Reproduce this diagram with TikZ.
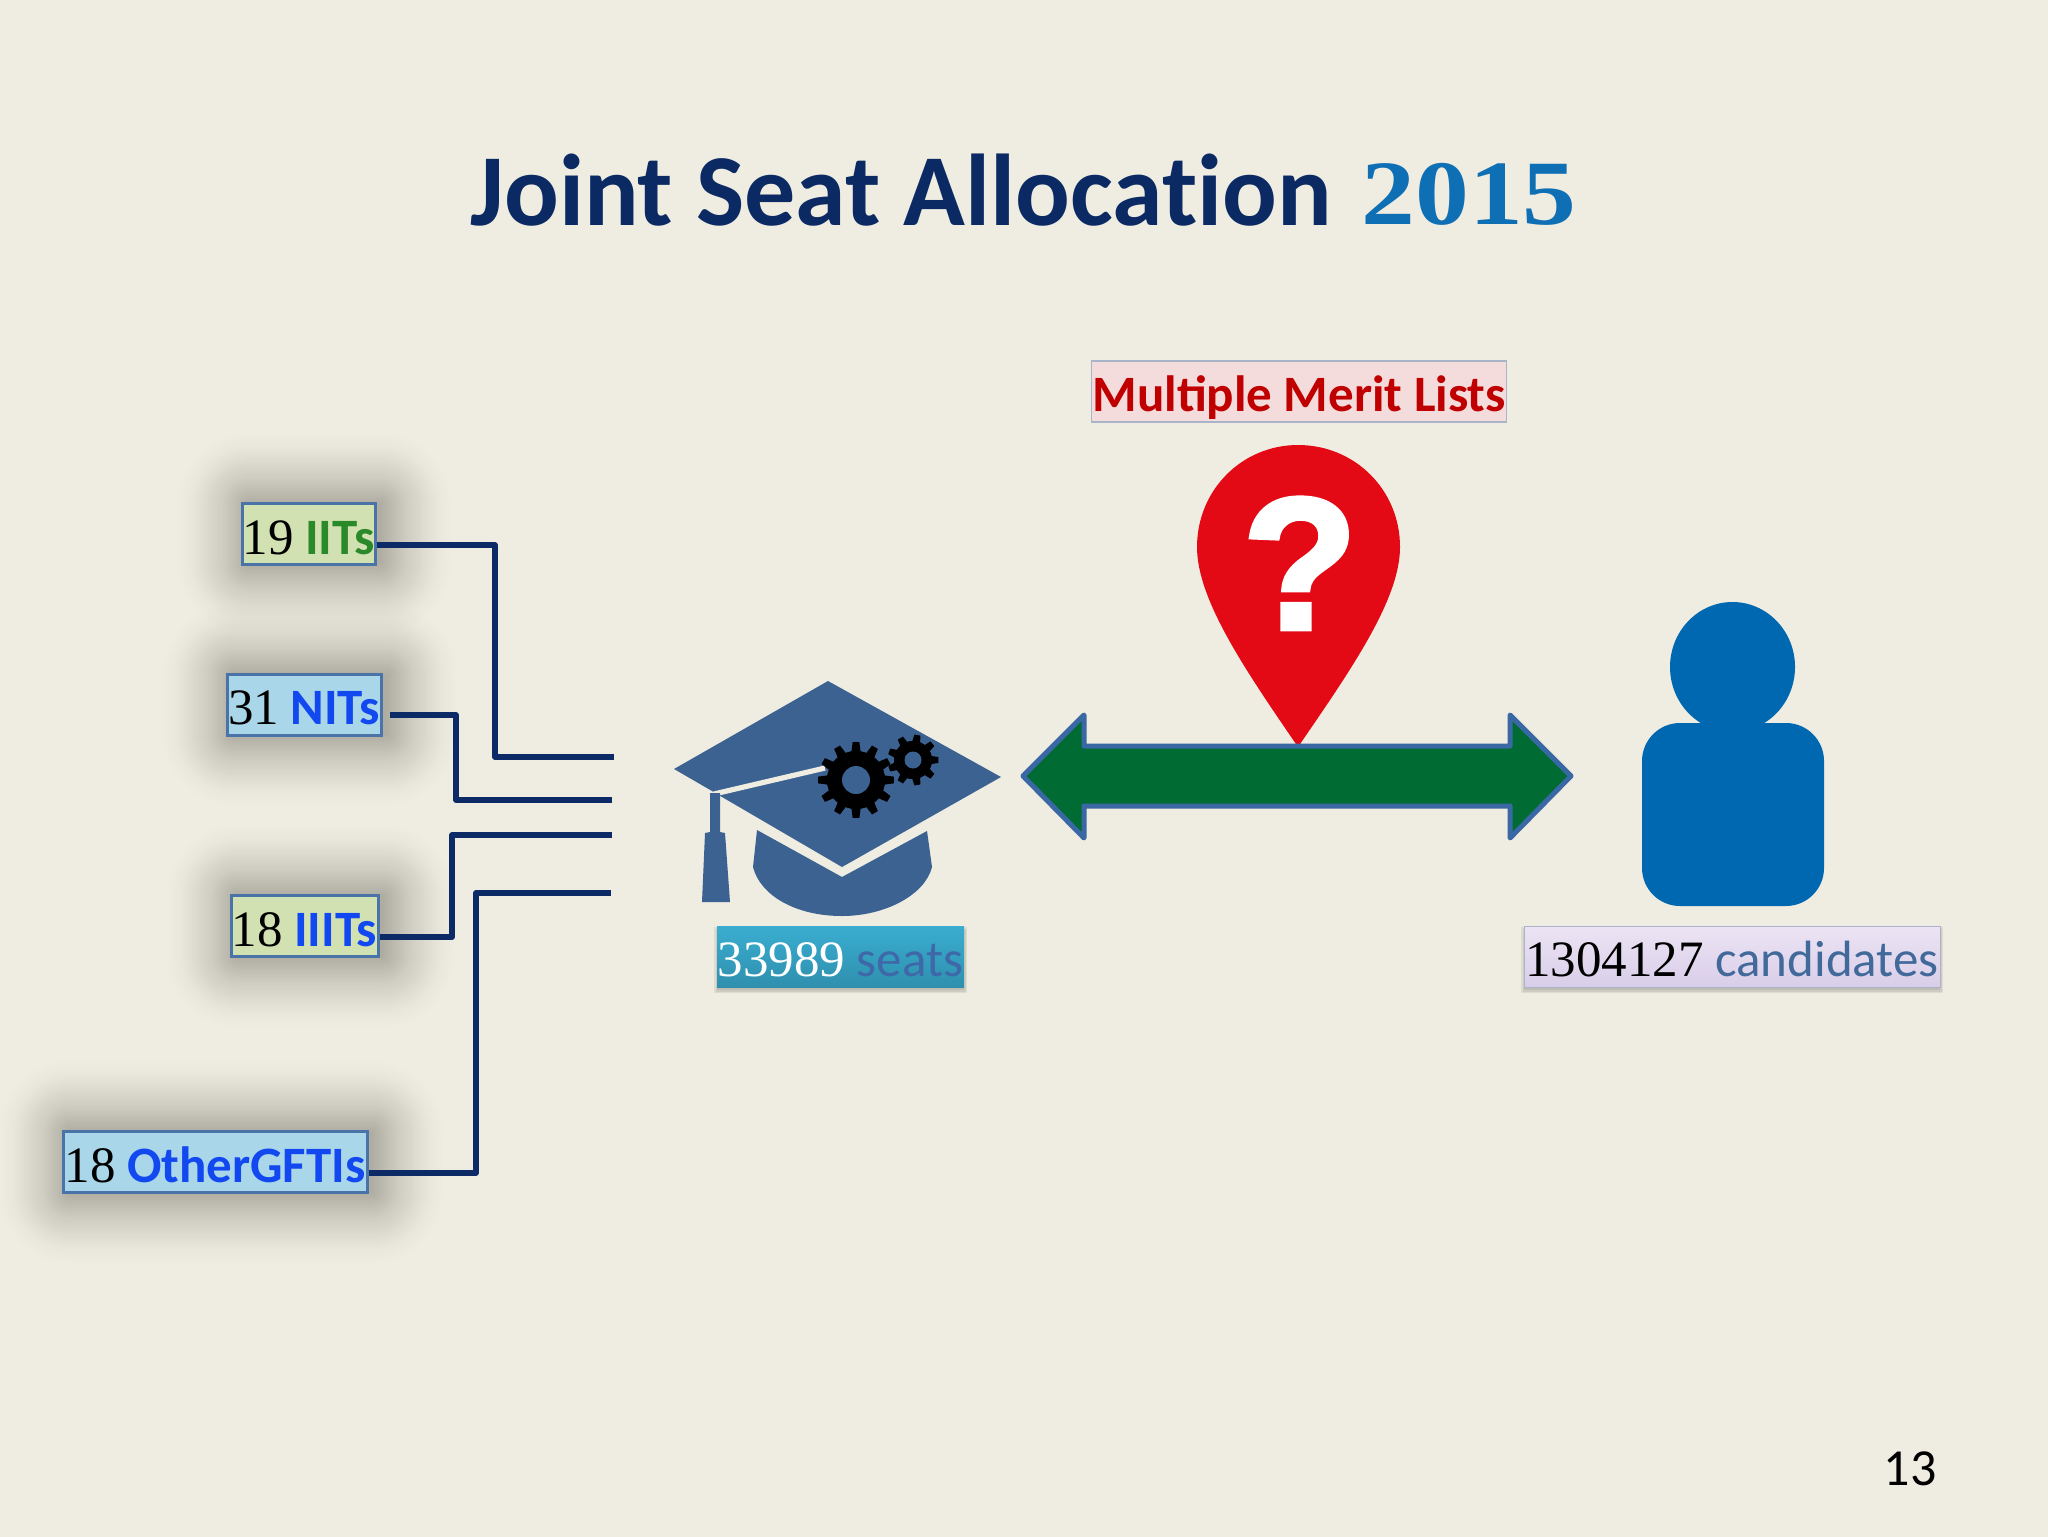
\documentclass[tikz,border=0pt]{standalone}
\usepackage{fontspec}
\setmainfont{Carlito}
\newfontfamily\serifnum{Liberation Serif}
\newfontfamily\qfont[FakeBold=2.5]{Liberation Sans Bold}
\usetikzlibrary{calc}
\definecolor{bgc}{HTML}{EFECE1}
\definecolor{navy}{HTML}{0C2A66}
\definecolor{titlenavy}{HTML}{0B2A63}
\definecolor{titleblue}{HTML}{0E6FB5}
\definecolor{boxedge}{HTML}{4A74A8}
\definecolor{greenbox}{HTML}{D2E1B2}
\definecolor{bluebox}{HTML}{A9D6E8}
\definecolor{iitgreen}{HTML}{2A8A2A}
\definecolor{nitblue}{HTML}{1248F0}
\definecolor{capblue}{HTML}{3B6291}
\definecolor{pinred}{HTML}{E30A16}
\definecolor{arrowgreen}{HTML}{006B33}
\definecolor{arrowedge}{HTML}{3A68A5}
\definecolor{person}{HTML}{0068B0}
\definecolor{merit}{HTML}{C00000}
\definecolor{meritbox}{HTML}{F3DCDB}
\definecolor{meritedge}{HTML}{A9B4C8}
\definecolor{candtext}{HTML}{41699A}
\definecolor{seattext}{HTML}{3F68A8}
\definecolor{seatstop}{HTML}{3AAED0}
\definecolor{seatsbot}{HTML}{2F8FAE}
\definecolor{candtop}{HTML}{ECE4F4}
\definecolor{candbot}{HTML}{D9CEE9}
\tikzset{
  x=0.5pt,y=-0.5pt,
  label25/.style={font=\fontsize{25.5}{25.5}\selectfont,inner sep=0pt,text height=20pt,text depth=0pt,minimum height=30.5pt},
  instbox/.style={label25,draw=boxedge,line width=1.5pt},
  feed/.style={draw=navy,line width=2.6pt,line join=round},
  hardshadow/.style={fill=black,fill opacity=0.07,draw=none},
}
\newcommand{\softbox}[4]{%
  \foreach \g [evaluate=\g as \op using {0.02*(1-\g/80)}] in {77.5,75,...,0}{%
    \fill[black!80!bgc,fill opacity=\op,draw=none,rounded corners=\g*0.5pt+0.5pt] (#1-\g+6,#2-\g) rectangle (#3+\g+6,#4+\g);
  }%
}
\newcommand{\edgeshadow}[4]{%
  \foreach \g in {0,1.5,3}{%
    \fill[hardshadow] (#1-\g,#2-\g+4) rectangle (#3+\g,#4+\g+3);
  }%
}
\newcommand{\gear}[6]{% cx cy outer root hole teeth
  \fill[black] ($(#1,#2)+(-0.30*360/#6:#4)$)
    \foreach \k [evaluate=\k as \a using \k*360/#6] in {0,...,#6}{
      -- ($(#1,#2)+(\a-0.30*360/#6:#4)$) -- ($(#1,#2)+(\a-0.17*360/#6:#3)$) -- ($(#1,#2)+(\a+0.17*360/#6:#3)$) -- ($(#1,#2)+(\a+0.30*360/#6:#4)$)
    } -- cycle;
  \fill[black] (#1,#2) circle[radius=#4];
  \fill[capblue] (#1,#2) circle[radius=#5];
}
\begin{document}
\begin{tikzpicture}
\useasboundingbox (0,0) rectangle (2048,1536);
\fill[bgc] (-6,-6) rectangle (2054,1542);

% title
\node[anchor=base west,inner sep=0pt,font=\fontsize{51}{51}\selectfont\bfseries\addfontfeature{Ligatures=NoCommon},text=titlenavy] (title) at (470,225) {Joint Seat Allocation};
\node[anchor=base west,inner sep=0pt,xscale=1.17,font=\fontsize{46}{46}\selectfont\bfseries\serifnum,text=titleblue] (year) at (1361,224) {2015};

% shadows
\softbox{242}{503}{375}{564}
\softbox{227}{674}{381}{735}
\softbox{231}{895}{378}{957}
\softbox{63}{1131}{367}{1193}

% institution boxes
\node[instbox,fill=greenbox,minimum width=66.5pt] (iit) at (308.5,534) {{\serifnum 19} \textcolor{iitgreen}{\bfseries IITs}};
\node[instbox,fill=bluebox,minimum width=77pt] (nit) at (304,704.5) {{\serifnum 31} \textcolor{nitblue}{\bfseries NITs}};
\node[instbox,fill=greenbox,minimum width=73.5pt] (iiit) at (304.5,926) {{\serifnum 18} \textcolor{nitblue}{\bfseries IIITs}};
\node[instbox,fill=bluebox,minimum width=152pt] (gfti) at (215,1162) {{\serifnum 18} \textcolor{nitblue}{\bfseries OtherGFTIs}};

% feeder lines
\coordinate (e1) at (614,757);
\coordinate (e2) at (612,800);
\coordinate (e3) at (612,835);
\coordinate (e4) at (611,893);
\coordinate (s2) at (390,715);
\draw[feed] (iit.east |- 0,545) -| (495,757) -- (e1);
\draw[feed] (s2) -| (456,800) -- (e2);
\draw[feed] (iiit.east |- 0,937) -| (452,835) -- (e3);
\draw[feed] (gfti.east |- 0,1173) -| (476,893) -- (e4);

% cap
\fill[capblue] (828,681) -- (1001,777) -- (842,867) -- (722,797) -- (712,791) -- (674,769) -- cycle;
\draw[bgc,line width=2.6pt] (714,794) -- (825,768);
\fill[capblue] (757,830) -- (842,877) -- (927,831) -- (932,867)
  .. controls (925,895) and (885,916) .. (842,916)
  .. controls (795,916) and (760,895) .. (753,867) -- cycle;
\fill[capblue] (710,793) -- (720,793) -- (720,832) -- (725,833) -- (730,902) -- (702,902) -- (705,833) -- (710,832) -- cycle;
\gear{856}{780}{38}{29}{14}{12}
\gear{913}{760}{25.5}{19}{8.5}{9}

% seats box
\edgeshadow{717}{926}{964}{987}
\node[label25,top color=seatstop,bottom color=seatsbot,text=white,minimum width=123.5pt] (seats) at (840.5,956.5) {{\serifnum 33989} \textcolor{seattext}{seats}};

% pin
\fill[pinred] (1298,445)
  .. controls (1355,445) and (1400,490) .. (1400,547)
  .. controls (1400,600) and (1350,671) .. (1298,747)
  .. controls (1246,671) and (1197,600) .. (1197,547)
  .. controls (1197,490) and (1242,445) .. (1298,445) -- cycle;
\node[inner sep=0pt,anchor=base,text=white,font=\fontsize{94}{94}\selectfont\qfont] (qmark) at (1300,629) {?};

% double arrow
\draw[fill=arrowgreen,draw=arrowedge,line width=2.5pt,line join=round]
  (1023,776) -- (1084,715) -- (1084,746) -- (1510,746) -- (1510,715) -- (1571,776) -- (1510,838) -- (1510,806) -- (1084,806) -- (1084,838) -- cycle;

% merit box
\node[label25,draw=meritedge,line width=0.6pt,fill=meritbox,text=merit,minimum width=207.5pt] (meritbg) at (1299.2,391.5) {\bfseries Multiple Merit Lists};

% person
\fill[person] (1732.5,667) ellipse[x radius=62.5,y radius=65];
\fill[person,rounded corners=19pt] (1642,723) rectangle (1824,906);

% candidates box
\edgeshadow{1524}{926}{1940}{987}
\node[label25,top color=candtop,bottom color=candbot,draw=meritedge,line width=0.5pt,minimum width=208pt] (cand) at (1732,956.5) {{\serifnum 1304127} \textcolor{candtext}{candidates}};

% page number
\node[anchor=base,inner sep=0pt,font=\fontsize{26}{26}\selectfont] (page) at (1910,1485) {13};
\end{tikzpicture}
\end{document}
